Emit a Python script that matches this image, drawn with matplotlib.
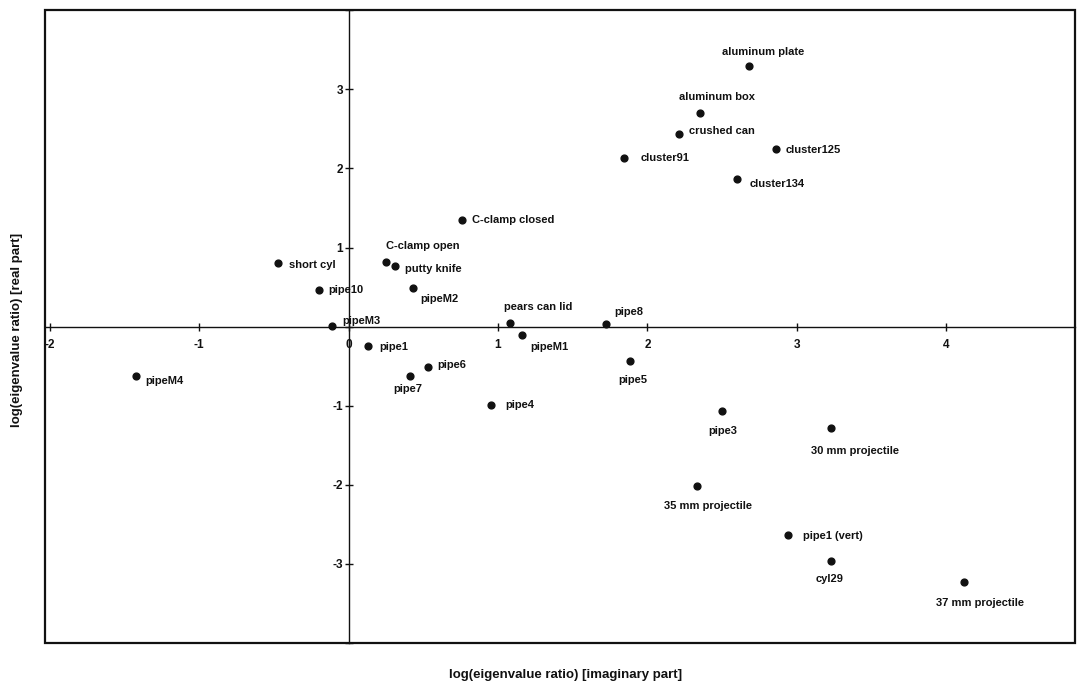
import matplotlib
matplotlib.use("Agg")
import matplotlib.pyplot as plt
from matplotlib.patches import Rectangle

plt.rcParams['font.family'] = ['Liberation Sans', 'DejaVu Sans']
plt.rcParams['font.weight'] = 'bold'

names = ["aluminum plate", "aluminum box", "crushed can", "cluster91", "cluster125",
         "cluster134", "C-clamp closed", "C-clamp open", "putty knife", "short cyl",
         "pipe10", "pipeM2", "pipeM3", "pipe1", "pears can lid", "pipe8", "pipeM1",
         "pipe6", "pipe7", "pipe4", "pipe5", "pipeM4", "pipe3", "30 mm projectile",
         "35 mm projectile", "pipe1 (vert)", "cyl29", "37 mm projectile"]
imag_part = [2.68, 2.35, 2.21, 1.84, 2.86, 2.60, 0.76, 0.25, 0.31, -0.47,
             -0.20, 0.43, -0.11, 0.13, 1.08, 1.72, 1.16, 0.53, 0.41, 0.95,
             1.88, -1.42, 2.50, 3.23, 2.33, 2.94, 3.23, 4.12]
real_part = [3.29, 2.70, 2.43, 2.13, 2.25, 1.87, 1.35, 0.82, 0.77, 0.80,
             0.46, 0.49, 0.01, -0.24, 0.05, 0.04, -0.11, -0.51, -0.63, -0.99,
             -0.44, -0.62, -1.06, -1.28, -2.01, -2.63, -2.96, -3.23]
x_ticks = [-2, -1, 0, 1, 2, 3, 4]
y_ticks = [-4, -3, -2, -1, 0, 1, 2, 3, 4]
y_tick_labels = ["", "-3", "-2", "-1", "", "1", "2", "3", ""]

# label offsets in pixels (dx, dy up) and alignment
label_style = [(14, 14, 'center'), (17, 16, 'center'), (10, 3, 'left'), (17, 0, 'left'),
               (10, -1, 'left'), (12, -5, 'left'), (10, 0, 'left'), (37, 16, 'center'),
               (10, -3, 'left'), (11, -2, 'left'), (10, 0, 'left'), (8, -11, 'left'),
               (10, 5, 'left'), (11, -1, 'left'), (-6, 16, 'left'), (9, 12, 'left'),
               (8, -12, 'left'), (10, 2, 'left'), (-2, -13, 'center'), (15, 0, 'left'),
               (3, -19, 'center'), (9, -5, 'left'), (1, -20, 'center'), (24, -23, 'center'),
               (11, -20, 'center'), (15, -1, 'left'), (-2, -18, 'center'), (16, -21, 'center')]

fig = plt.figure(figsize=(10.83, 6.87), dpi=100)
ax = fig.add_axes([0.0416, 0.064, 0.951, 0.921])
ax.set_xlim(-2.03, 4.86)
ax.set_ylim(-4, 4)

ink = '#111111'
ax.scatter(imag_part, real_part, s=24, color=ink, zorder=3)
for n, x, y, (dx, dy, ha) in zip(names, imag_part, real_part, label_style):
    ax.annotate(n, (x, y), xytext=(dx, dy), textcoords='offset pixels',
                ha=ha, va='center', fontsize=8, fontweight='bold', color=ink)

for s in ['top', 'right']:
    ax.spines[s].set_visible(False)
ax.spines['left'].set_position(('data', 0))
ax.spines['bottom'].set_position(('data', 0))
ax.spines['left'].set_linewidth(1.0)
ax.spines['bottom'].set_linewidth(1.0)
ax.spines['left'].set_color(ink)
ax.spines['bottom'].set_color(ink)
ax.add_patch(Rectangle((0, 0), 1, 1, transform=ax.transAxes, fill=False,
                       lw=1.6, edgecolor=ink, clip_on=False, zorder=4))

ax.set_xticks(x_ticks)
ax.set_xticklabels([str(t) for t in x_ticks])
ax.set_yticks(y_ticks)
ax.set_yticklabels(y_tick_labels)
ax.tick_params(axis='both', direction='inout', length=6, width=1, colors=ink,
               labelsize=8.5)
ax.tick_params(axis='x', pad=6)
ax.tick_params(axis='y', pad=1)

fig.text(0.522, 0.017, "log(eigenvalue ratio) [imaginary part]", ha='center', va='center',
         fontsize=9.5, fontweight='bold', color=ink)
fig.text(0.016, 0.52, "log(eigenvalue ratio) [real part]", ha='center', va='center',
         rotation=90, fontsize=9.5, fontweight='bold', color=ink)

fig.savefig("out.png", dpi=100, facecolor='white')
